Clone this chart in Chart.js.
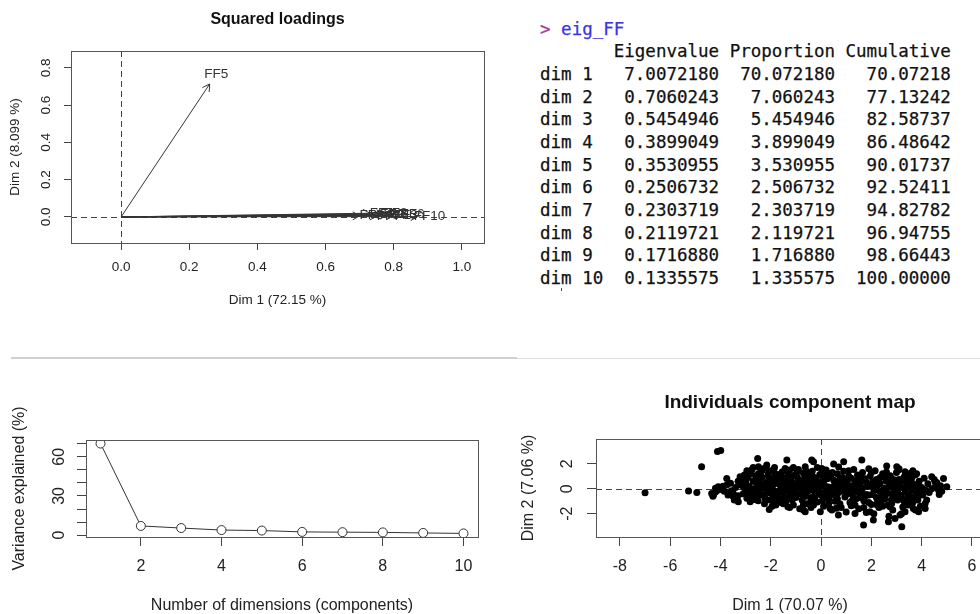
<!DOCTYPE html>
<html>
<head>
<meta charset="utf-8">
<script src="https://cdn.jsdelivr.net/npm/chart.js@4.4.1/dist/chart.umd.min.js"></script>
<style>
html, body { margin: 0; padding: 0; width: 980px; height: 614px; overflow: hidden; background: #fff; }
.box { position: absolute; }
#eig { position: absolute; left: 540px; top: 17.7px; margin: 0; font-family: "DejaVu Sans Mono", monospace;
       font-size: 17.5px; line-height: 22.67px; color: #111; white-space: pre; -webkit-text-stroke: 0.25px #111; }
</style>
</head>
<body>
<div class="box" style="left:0;top:0;width:520px;height:320px"><canvas id="loadChart"></canvas></div>
<pre id="eig"></pre>
<div style="position:absolute;left:561px;top:288px;width:1px;height:3px;background:#3b35e6"></div>
<div style="position:absolute;left:11px;top:357px;width:506px;height:2px;background:#d0d0d0"></div>
<div style="position:absolute;left:517px;top:358px;width:463px;height:1px;background:#dcdcdc"></div>
<div class="box" style="left:0;top:370px;width:500px;height:244px"><canvas id="screeChart"></canvas></div>
<div class="box" style="left:500px;top:370px;width:520px;height:244px"><canvas id="indivChart"></canvas></div>

<script>
// eigenvalue table
var dimLabels = ['dim 1','dim 2','dim 3','dim 4','dim 5','dim 6','dim 7','dim 8','dim 9','dim 10'];
var eigenvalues = [7.0072180, 0.7060243, 0.5454946, 0.3899049, 0.3530955, 0.2506732, 0.2303719, 0.2119721, 0.1716880, 0.1335575];
var proportions = [70.072180, 7.060243, 5.454946, 3.899049, 3.530955, 2.506732, 2.303719, 2.119721, 1.716880, 1.335575];
var cumulative = [70.07218, 77.13242, 82.58737, 86.48642, 90.01737, 92.52411, 94.82782, 96.94755, 98.66443, 100.00000];

// squared loadings (variables)
var varNames = ['FF1','FF2','FF3','FF4','FF5','FF6','FF7','FF8','FF9','FF10'];
var loadDim1 = [0.78, 0.76, 0.80, 0.73, 0.26, 0.82, 0.75, 0.77, 0.70, 0.87];
var loadDim2 = [0.010, 0.015, 0.008, 0.020, 0.714, 0.012, 0.005, 0.018, 0.006, 0.002];

// tick values
var loadXTicks = [0, 0.2, 0.4, 0.6, 0.8, 1.0];
var loadYTicks = [0, 0.2, 0.4, 0.6, 0.8];
var screeXTicks = [2, 4, 6, 8, 10];
var screeYTicks = [0, 10, 20, 30, 40, 50, 60, 70];
var screeYLabels = [0, 30, 60];
var indivXTicks = [-8, -6, -4, -2, 0, 2, 4, 6];
var indivYTicks = [-2, 0, 2];

// individuals (dim 1, dim 2)
var indivCoords = [
  [-7.0,-0.32],[-5.27,-0.18],[-4.94,-0.29],[-4.75,1.76],[-4.12,2.99],[-3.99,3.07],
  [-4.35,-0.37],[-4.28,-0.5],[-4.2,-0.25],[-4.09,0.16],[-4.2,0.05],[-4.09,-0.1],[-4.3,-0.6],
  [-3.75,0.83],[-3.75,0.3],[-3.62,-0.24],[-3.49,-0.37],[-3.35,-0.77],[-3.29,-1.04],[-3.22,0.96],
  [-3.15,0.7],[-3.09,0.16],[-2.96,-0.24],[-2.82,-1.04],[-2.76,1.5],[-2.78,1.23],[-2.69,-0.1],
  [-2.62,-0.5],[-2.52,2.43],[-2.49,1.76],[-2.49,1.23],[-2.43,0.43],[-2.36,0.03],[-2.29,-0.5],
  [-2.22,-0.77],[-2.16,1.9],[-2.09,0.96],[-2.03,0.56],[-2.06,-1.65],[-1.9,1.5],[-1.83,1.23],
  [-1.9,-0.1],[-1.83,-1.04],[-1.7,0.7],[-1.63,0.3],[-1.36,2.3],[-1.43,1.63],[-1.32,-1.44],
  [-1.23,0.96],[-1.16,0.16],[-1.23,-0.5],[-0.37,2.3],[-0.3,2.16],[-0.63,1.76],[-0.96,1.36],
  [0.5,1.98],[0.9,2.16],[1.62,2.3],[0.03,1.63],[-0.7,-1.7],[-0.63,-1.84],[-0.03,-1.84],
  [0.36,-1.57],[0.43,-1.7],[0.69,-2.1],[1.35,-1.97],[1.69,-2.9],
  [2.61,1.82],[3.01,1.76],[3.08,1.5],[3.34,1.36],[3.54,1.23],[3.74,1.1],[3.88,0.43],[4.4,0.96],
  [4.54,0.56],[4.87,0.83],[5.0,0.16],[4.67,-0.1],[4.54,0.16],[3.88,-0.37],[4.01,-0.5],[4.14,-1.17],
  [4.14,-1.57],[3.88,-1.84],[3.47,-1.3],[3.67,-1.57],[3.34,-1.84],[3.14,-2.1],[2.94,-2.37],
  [2.68,-2.64],[3.21,-3.04],[2.08,-2.5],[1.95,-1.84],[2.81,-1.17],[2.74,-1.44],
  [-3.6,0.45],[-3.4,0.1],[-3.3,-0.55],[-3.2,0.3],[-3.1,-0.4],[-3.0,0.55],[-2.95,-0.75],[-2.9,0.9],
  [-2.85,0.2],[-2.75,-0.3],[-2.7,0.6],[-2.65,-0.85],[-2.6,1.0],[-2.55,-0.2],[-3.45,-0.9],[-3.7,-0.5],
  [-3.85,-0.2],[-3.55,-0.15],
  [-2.45,0.75],[-2.4,-0.5],[-2.35,1.45],[-2.3,0.2],[-2.25,-1.2],[-2.2,0.5],[-2.15,-0.3],[-2.1,1.2],
  [-2.05,-0.9],[-2.0,0.1],[-1.95,0.8],[-1.9,-0.55],[-1.85,0.4],[-1.8,-1.3],[-1.75,1.0],[-1.7,-0.2],
  [-1.65,-0.8],[-1.6,0.6],[-1.55,1.35],[-1.5,-0.4],[-2.4,0.05],[-2.0,-0.35],[-1.85,1.7],[-1.6,-1.1],
  [-1.45,0.2],[-1.4,-1.0],[-1.35,0.9],[-1.3,-0.15],[-1.25,1.5],[-1.2,-0.6],[-1.15,0.5],[-1.1,-1.3],
  [-1.05,1.1],[-1.0,0.05],[-0.95,-0.45],[-0.9,0.75],[-0.85,-1.6],[-0.8,0.3],[-0.75,-0.9],[-0.7,1.25],
  [-0.65,-0.25],[-0.6,0.55],[-0.55,-1.2],[-0.5,1.0],[-1.4,0.55],[-1.1,-0.2],[-0.9,1.55],[-0.75,0.0],
  [-0.6,-0.6],[-1.25,-1.5],[-0.95,0.35],
  [-0.45,0.15],[-0.4,-0.7],[-0.35,1.4],[-0.3,0.4],[-0.25,-0.3],[-0.2,0.85],[-0.15,-1.05],[-0.1,0.0],
  [-0.05,1.15],[0.0,-0.5],[0.05,0.6],[0.1,-1.4],[0.15,0.25],[0.2,1.5],[0.25,-0.15],[0.3,-0.85],
  [0.35,0.95],[0.4,0.1],[0.45,-0.4],[0.5,0.7],[-0.4,-1.5],[-0.2,0.45],[0.0,0.2],[0.1,1.0],
  [0.3,-1.2],[0.45,1.3],[-0.35,-0.05],[0.2,-0.6],[0.09,1.5],
  [0.55,-1.0],[0.6,0.3],[0.65,1.2],[0.7,-0.3],[0.75,0.8],[0.8,-1.5],[0.85,0.05],[0.9,1.4],
  [0.95,-0.65],[1.0,0.5],[1.05,-0.1],[1.1,1.0],[1.15,-1.1],[1.2,0.25],[1.25,-0.45],[1.3,1.55],
  [1.35,0.65],[1.4,-0.8],[1.45,0.1],[1.5,-1.6],[0.6,-0.55],[0.8,0.55],[1.0,-1.85],[1.1,-0.35],
  [1.3,0.0],[1.45,1.1],[0.7,1.75],[1.2,-1.35],[0.9,-0.2],[1.35,-0.15],
  [1.55,0.45],[1.6,-0.25],[1.65,1.3],[1.7,-0.95],[1.75,0.8],[1.8,-1.9],[1.85,0.2],[1.9,-0.5],
  [1.95,1.0],[2.0,-1.25],[2.05,0.55],[2.1,-0.1],[2.15,1.45],[2.2,-0.7],[2.25,0.3],[2.3,-1.5],
  [2.35,0.9],[2.4,-0.35],[2.45,1.2],[2.5,0.05],[1.6,0.95],[1.8,-0.45],[2.0,0.25],[2.2,0.75],
  [2.4,-1.0],[1.7,-1.5],[2.1,-2.0],[1.9,1.6],[2.3,-0.15],[1.55,-0.7],
  [2.55,-0.8],[2.6,0.6],[2.65,-1.3],[2.7,0.2],[2.75,1.05],[2.8,-0.4],[2.85,-1.7],[2.9,0.45],
  [2.95,-0.15],[3.0,1.3],[3.05,-0.9],[3.1,0.75],[3.15,-0.5],[3.2,0.1],[3.25,-1.45],[3.3,0.95],
  [3.35,-0.25],[3.4,0.5],[3.45,-0.85],[3.5,0.25],[2.6,-0.1],[2.9,-0.7],[3.1,1.6],[3.3,-1.0],
  [2.8,0.85],[3.0,0.0],[3.2,-2.0],[2.7,-2.2],
  [3.55,-0.6],[3.6,0.8],[3.65,-1.1],[3.7,0.35],[3.75,-0.2],[3.8,1.2],[3.85,-0.9],[3.9,0.6],
  [3.95,-1.4],[4.0,0.1],[4.05,-0.45],[4.1,0.85],[4.2,-0.9],[4.25,0.4],[4.3,-0.3],[4.4,0.0],
  [3.65,1.45],[3.9,-0.2],[4.15,-0.1],[3.75,-1.7],
  [4.6,0.5],[4.7,-0.45],[4.75,0.25],[4.8,-0.2],[4.5,0.75],
  [-3.05,1.1],[-2.95,1.45],[-2.7,1.7],[-2.55,0.35],[-2.35,0.95],[-2.25,1.65],[-2.15,0.15],[-2.05,1.45],
  [-1.95,-0.15],[-1.8,0.55],[-1.75,-0.6],[-1.65,1.15],[-1.55,0.0],[-1.5,0.85],[-1.45,-0.7],[-1.35,0.35],
  [-1.3,1.2],[-1.2,0.7],[-1.15,-0.9],[-1.05,0.3],[-1.0,-0.7],[-0.95,0.95],[-0.85,0.1],[-0.8,-0.4],
  [-0.75,0.6],[-0.7,-1.25],[-0.65,0.9],[-0.55,0.25],[-0.5,-0.15],[-0.45,0.65],[-0.4,-1.0],[-0.3,0.95],
  [-0.25,-0.65],[-0.2,0.2],[-0.15,1.7],[-0.1,-0.3],[-0.05,0.55],[0.05,-0.95],[0.1,0.4],[0.15,-0.25],
  [0.25,0.8],[0.3,0.15],[0.35,-0.55],[0.4,1.15],[0.5,-0.1],[0.55,0.45],[0.65,-0.8],[0.7,0.15],
  [0.75,-1.2],[0.85,0.9],[0.95,0.25],[1.0,-0.45],[1.05,0.7],[1.15,0.15],[1.2,0.85],[1.25,-0.9],
  [1.4,0.4],[1.5,-0.3],[1.55,0.95],[1.65,0.05],[1.75,-0.6],[1.8,0.5],[1.9,-1.1],[1.95,0.35],
  [2.05,-0.45],[2.15,0.1],[2.25,-1.0],[2.35,0.45],[2.45,-0.6],[2.55,0.9],[2.6,-0.4],[2.7,0.5],
  [2.8,-0.9],[2.85,0.1],[2.95,0.7],[3.05,-0.3],[3.1,0.3],[3.2,-0.7],[3.25,0.6],[3.35,0.05],
  [3.45,-0.5],[3.5,0.7],[3.6,-0.1],[3.7,-0.7],[3.8,0.2],[-3.3,0.6],[-3.0,-0.1],[-2.8,-0.6],
  [-2.5,-0.95],[-2.6,0.05],[-3.5,-0.6],[-3.9,0.2],[-1.95,-1.4],[-1.5,-1.2],[-0.3,-1.3],[0.6,-1.55],
  [1.35,-1.3],[2.45,-1.4],[2.2,-1.25],[1.1,1.45],[0.3,1.25],[-0.6,1.45],[-1.1,1.7],[2.6,1.35],
  [2.0,1.3],[3.45,1.0]
];

var FAM = '"Liberation Sans", Arial, Helvetica, sans-serif';
Chart.defaults.font.family = FAM;
Chart.defaults.color = '#222';

// the printed R table
(function () {
  var pad = function (s, n) { while (s.length < n) s = ' ' + s; return s; };
  var lines = ['<span style="color:#a33ea1;-webkit-text-stroke-color:#a33ea1">&gt;</span> <span style="color:#3b35e6;-webkit-text-stroke-color:#3b35e6">eig_FF</span>'];
  lines.push('       Eigenvalue Proportion Cumulative');
  for (var i = 0; i < dimLabels.length; i++) {
    var name = dimLabels[i];
    while (name.length < 6) name += ' ';
    lines.push(name + ' ' + pad(eigenvalues[i].toFixed(7), 10) + ' ' + pad(proportions[i].toFixed(6), 10) + ' ' + pad(cumulative[i].toFixed(5), 10));
  }
  document.getElementById('eig').innerHTML = lines.join('\n');
})();

// base-R look: box, title, rotated y labels, dashed zero lines
var rFrame = {
  id: 'rFrame',
  beforeDatasetsDraw: function (chart, args, o) {
    if (!o.zeroLines) return;
    var ctx = chart.ctx, a = chart.chartArea;
    var px = Math.round(chart.scales.x.getPixelForValue(0)) + 0.5;
    var py = Math.round(chart.scales.y.getPixelForValue(0)) + 0.5;
    ctx.save();
    ctx.strokeStyle = '#444';
    ctx.lineWidth = 1;
    ctx.setLineDash([6, 4]);
    ctx.beginPath();
    ctx.moveTo(px, a.top); ctx.lineTo(px, a.bottom);
    ctx.moveTo(a.left, py); ctx.lineTo(a.right, py);
    ctx.stroke();
    ctx.restore();
  },
  afterDraw: function (chart, args, o) {
    var ctx = chart.ctx, a = chart.chartArea, y = chart.scales.y;
    ctx.save();
    ctx.strokeStyle = '#555';
    ctx.lineWidth = 1;
    ctx.strokeRect(Math.round(a.left) + 0.5, Math.round(a.top) + 0.5, Math.round(a.right - a.left), Math.round(a.bottom - a.top));
    if (o.title) {
      ctx.font = 'bold ' + o.titleSize + 'px ' + FAM;
      ctx.fillStyle = '#111';
      ctx.textAlign = 'center';
      ctx.textBaseline = 'alphabetic';
      ctx.fillText(o.title, (a.left + a.right) / 2, o.titleBaseline);
    }
    ctx.font = o.tickSize + 'px ' + FAM;
    ctx.fillStyle = '#222';
    ctx.textAlign = 'center';
    ctx.textBaseline = 'middle';
    o.yLabels.forEach(function (v) {
      ctx.save();
      ctx.translate(a.left - o.yLabelGap, y.getPixelForValue(v));
      ctx.rotate(-Math.PI / 2);
      ctx.fillText(v.toFixed(o.decimals), 0, 0);
      ctx.restore();
    });
    ctx.restore();
  }
};

// arrow heads and variable names
var arrowTips = {
  id: 'arrowTips',
  afterDatasetsDraw: function (chart, args, o) {
    if (!o.on) return;
    var ctx = chart.ctx;
    ctx.save();
    ctx.strokeStyle = '#333';
    ctx.fillStyle = '#333';
    ctx.lineWidth = 1;
    ctx.font = '13.5px ' + FAM;
    ctx.textAlign = 'center';
    ctx.textBaseline = 'middle';
    chart.data.datasets.forEach(function (ds, i) {
      var pts = chart.getDatasetMeta(i).data;
      var p0 = pts[0], p1 = pts[1];
      var ang = Math.atan2(p1.y - p0.y, p1.x - p0.x);
      var len = 8, sp = Math.PI / 6;
      ctx.beginPath();
      ctx.moveTo(p1.x - len * Math.cos(ang - sp), p1.y - len * Math.sin(ang - sp));
      ctx.lineTo(p1.x, p1.y);
      ctx.lineTo(p1.x - len * Math.cos(ang + sp), p1.y - len * Math.sin(ang + sp));
      ctx.stroke();
      ctx.fillText(ds.label, p1.x + 12 * Math.cos(ang), p1.y + 12 * Math.sin(ang));
    });
    ctx.restore();
  }
};

function rAxis(opts) {
  return {
    type: 'linear',
    min: opts.min, max: opts.max,
    afterBuildTicks: function (s) { s.ticks = opts.ticks.map(function (v) { return { value: v }; }); },
    afterFit: function (s) { if (opts.height) s.height = opts.height; if (opts.width) s.width = opts.width; },
    grid: { display: true, drawOnChartArea: false, drawTicks: true, tickLength: opts.tick, color: '#444', lineWidth: 1 },
    border: { display: false },
    ticks: {
      display: opts.labels !== false, autoSkip: false, maxRotation: 0, padding: opts.pad,
      font: { size: opts.size }, color: '#222',
      callback: function (v) { return opts.decimals ? v.toFixed(opts.decimals) : String(v); }
    },
    title: { display: true, text: opts.title, color: '#222', font: { size: opts.size, lineHeight: 1 }, padding: opts.titlePad }
  };
}

new Chart(document.getElementById('loadChart'), {
  type: 'scatter',
  data: {
    datasets: varNames.map(function (n, i) {
      return { label: n, data: [{ x: 0, y: 0 }, { x: loadDim1[i], y: loadDim2[i] }], showLine: true,
               borderColor: '#333', borderWidth: 1, pointRadius: 0 };
    })
  },
  options: {
    responsive: true, maintainAspectRatio: false, animation: false,
    layout: { padding: { left: 0, right: 36, top: 51, bottom: 6 } },
    plugins: {
      legend: { display: false }, tooltip: { enabled: false },
      rFrame: { zeroLines: true, title: 'Squared loadings', titleSize: 16, titleBaseline: 24,
                tickSize: 13.5, yLabels: loadYTicks, yLabelGap: 24.5, decimals: 1 },
      arrowTips: { on: true }
    },
    scales: {
      x: rAxis({ min: -0.147, max: 1.065, ticks: loadXTicks, height: 71, tick: 7, pad: 9, size: 13.5, decimals: 1,
                 title: 'Dim 1 (72.15 %)', titlePad: { top: 0, bottom: 7 } }),
      y: rAxis({ min: -0.14, max: 0.891, ticks: loadYTicks, width: 71, tick: 7, pad: 0, size: 13.5, labels: false,
                 title: 'Dim 2 (8.099 %)', titlePad: { top: 9, bottom: 0 } })
    }
  },
  plugins: [rFrame, arrowTips]
});

new Chart(document.getElementById('screeChart'), {
  type: 'scatter',
  data: {
    datasets: [{
      data: proportions.map(function (p, i) { return { x: i + 1, y: p }; }),
      showLine: true, borderColor: '#333', borderWidth: 1,
      pointRadius: 4.5, pointBorderWidth: 1, pointBorderColor: '#333', pointBackgroundColor: '#fff'
    }]
  },
  options: {
    responsive: true, maintainAspectRatio: false, animation: false,
    layout: { padding: { left: 0, right: 22, top: 70, bottom: 0 } },
    plugins: {
      legend: { display: false }, tooltip: { enabled: false },
      rFrame: { zeroLines: false, tickSize: 16, yLabels: screeYLabels, yLabelGap: 26, decimals: 0 }
    },
    scales: {
      x: rAxis({ min: 0.64, max: 10.36, ticks: screeXTicks, height: 77, tick: 9, pad: 11.4, size: 16,
                 title: 'Number of dimensions (components)', titlePad: { top: 0, bottom: 0 } }),
      y: rAxis({ min: -1.4, max: 72.8, ticks: screeYTicks, width: 86, tick: 9, pad: 0, size: 16, labels: false,
                 title: 'Variance explained (%)', titlePad: { top: 12, bottom: 0 } })
    }
  },
  plugins: [rFrame]
});

new Chart(document.getElementById('indivChart'), {
  type: 'scatter',
  data: {
    datasets: [{
      data: indivCoords.map(function (c) { return { x: c[0], y: c[1] }; }),
      pointRadius: 3.5, pointBorderWidth: 0, pointBackgroundColor: '#000', borderColor: '#000'
    }]
  },
  options: {
    responsive: true, maintainAspectRatio: false, animation: false,
    layout: { padding: { left: 0, right: 36, top: 69, bottom: 0 } },
    plugins: {
      legend: { display: false }, tooltip: { enabled: false },
      rFrame: { zeroLines: true, title: 'Individuals component map', titleSize: 19, titleBaseline: 37.7,
                tickSize: 16, yLabels: indivYTicks, yLabelGap: 28, decimals: 0 }
    },
    scales: {
      x: rAxis({ min: -8.95, max: 6.48, ticks: indivXTicks, height: 77, tick: 9, pad: 11.4, size: 16,
                 title: 'Dim 1 (70.07 %)', titlePad: { top: 0, bottom: 0 } }),
      y: rAxis({ min: -3.86, max: 3.98, ticks: indivYTicks, width: 96, tick: 9, pad: 0, size: 16, labels: false,
                 title: 'Dim 2 (7.06 %)', titlePad: { top: 21, bottom: 0 } })
    }
  },
  plugins: [rFrame]
});
</script>
</body>
</html>
